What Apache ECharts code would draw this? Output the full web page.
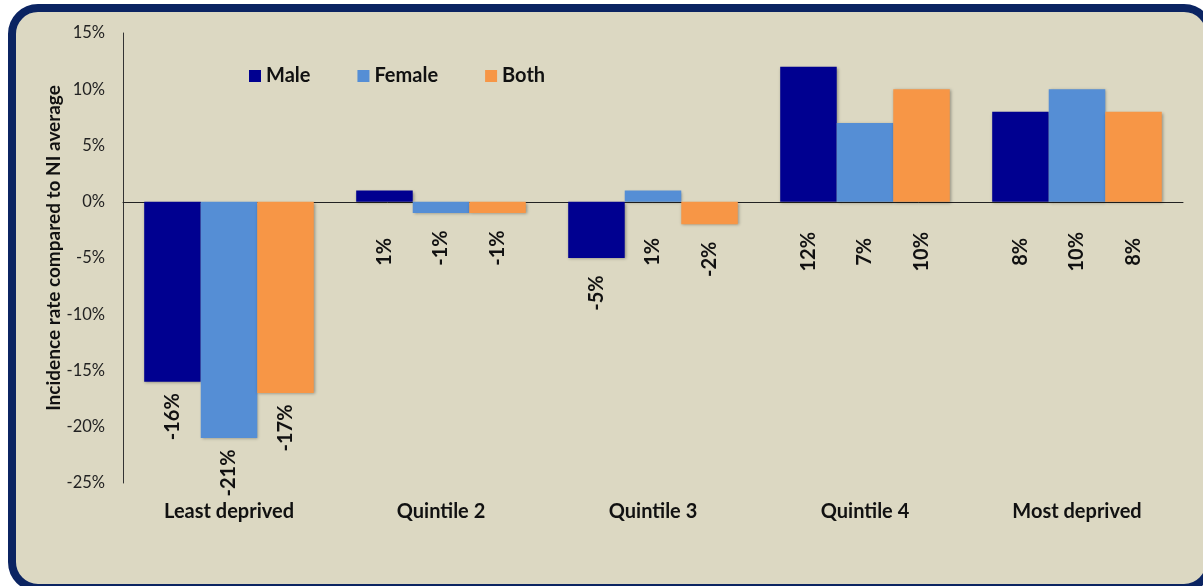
<!DOCTYPE html>
<html>
<head>
<meta charset="utf-8">
<script src="https://cdn.jsdelivr.net/npm/echarts@6/dist/echarts.min.js"></script>
<style>
  html, body { margin: 0; padding: 0; width: 1203px; height: 586px; overflow: hidden; background: #fff; }
  .frame {
    position: absolute; left: 8px; top: 4px; width: 1190px; height: 572px;
    background: #dcd8c2; border: 8px solid #0b2462; border-radius: 30px;
  }
  #main { position: absolute; left: 0; top: 0; width: 1203px; height: 586px; }
</style>
</head>
<body>
<div class="frame"></div>
<div id="main"></div>
<script>
const categories = ['Least deprived', 'Quintile 2', 'Quintile 3', 'Quintile 4', 'Most deprived']
const male = [-16, 1, -5, 12, 8]
const female = [-21, -1, 1, 7, 10]
const both = [-17, -1, -2, 10, 8]
const yTicks = { min: -25, max: 15, interval: 5 }

const font = 'Lato, "Open Sans", sans-serif'

function makeSeries(name, values, color) {
  return {
    name: name,
    type: 'bar',
    xAxisIndex: 0,
    barGap: '0%',
    barCategoryGap: '20%',
    itemStyle: {
      color: color,
      shadowColor: 'rgba(0,0,0,0.35)',
      shadowBlur: 3,
      shadowOffsetX: 1,
      shadowOffsetY: 1
    },
    label: {
      show: true,
      position: 'bottom',
      rotate: 90,
      align: 'center',
      verticalAlign: 'middle',
      formatter: '{c}%',
      fontFamily: font,
      fontWeight: 'bold',
      fontSize: 20,
      color: '#111'
    },
    data: values.map(v => ({ value: v, label: { distance: v < 0 ? 35 : 50 } }))
  }
}

const chart = echarts.init(document.getElementById('main'))
const option = {
  backgroundColor: 'transparent',
  animation: false,
  grid: { left: 123, right: 20, top: 33, bottom: 103, containLabel: false },
  legend: {
    left: 249,
    top: 66,
    padding: 0,
    itemWidth: 12,
    itemHeight: 12,
    itemGap: 47,
    icon: 'rect',
    textStyle: { fontFamily: font, fontWeight: 'bold', fontSize: 20, color: '#111' },
    data: ['Male', 'Female', 'Both']
  },
  xAxis: [
    {
      type: 'category',
      data: categories,
      position: 'bottom',
      axisLine: { show: false, onZero: false },
      axisTick: { show: false },
      axisLabel: { margin: 19, fontFamily: font, fontWeight: 'bold', fontSize: 20, color: '#111' }
    },
    {
      type: 'category',
      data: categories,
      position: 'bottom',
      axisLine: { show: true, onZero: true, lineStyle: { color: '#222', width: 1 } },
      axisTick: { show: false },
      axisLabel: { show: false }
    }
  ],
  yAxis: {
    type: 'value',
    min: yTicks.min,
    max: yTicks.max,
    interval: yTicks.interval,
    name: 'Incidence rate compared to NI average',
    nameLocation: 'middle',
    nameGap: 60,
    nameMoveOverlap: false,
    nameTextStyle: { fontFamily: font, fontWeight: 'bold', fontSize: 19, color: '#111', padding: [0, 0, 0, 20] },
    axisLine: { show: true, onZero: false, lineStyle: { color: '#333', width: 1 } },
    axisTick: { show: false },
    splitLine: { show: false },
    axisLabel: { margin: 18, formatter: '{value}%', fontFamily: font, fontSize: 16.5, color: '#222' }
  },
  series: [
    makeSeries('Male', male, '#000090'),
    makeSeries('Female', female, '#558ed5'),
    makeSeries('Both', both, '#f79646')
  ]
}
option && chart.setOption(option)
</script>
</body>
</html>
